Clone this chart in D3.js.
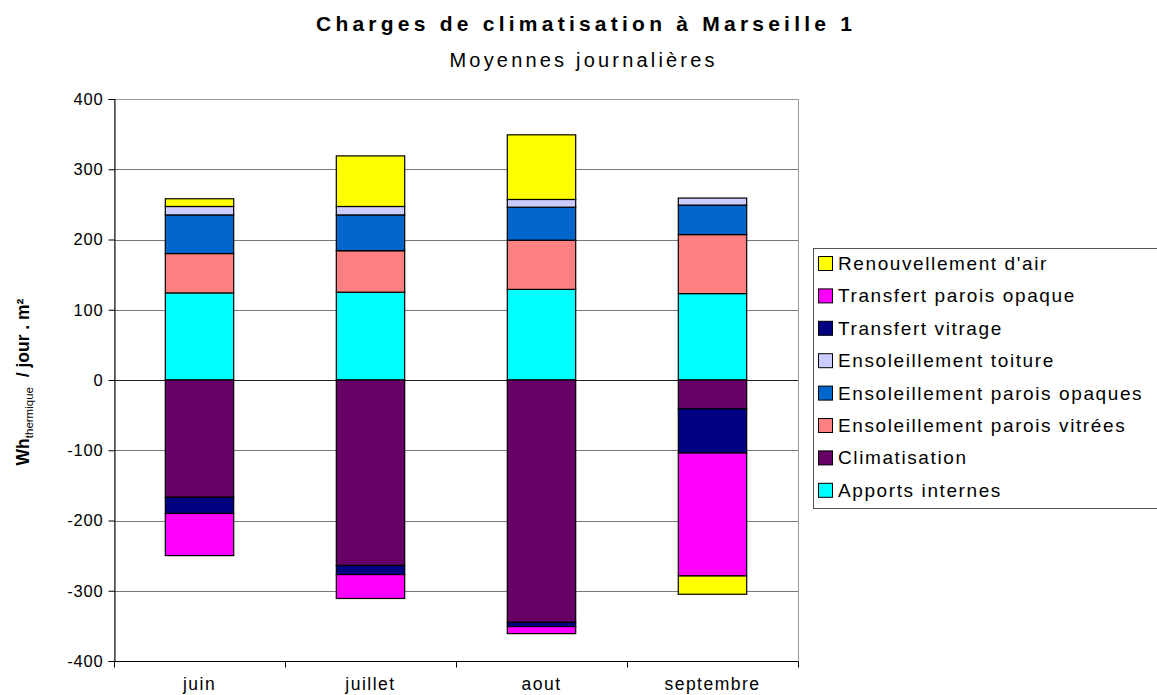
<!DOCTYPE html>
<html>
<head>
<meta charset="utf-8">
<script src="https://cdn.jsdelivr.net/npm/d3@7"></script>
<style>
  body { margin: 0; background: #fff; }
  svg { display: block; font-family: "Liberation Sans", Arial, sans-serif; }
</style>
</head>
<body>
<svg id="chart" width="1157" height="695"></svg>
<script>
// Months on the category axis
const categories = ["juin", "juillet", "aout", "septembre"];

// Daily mean loads per series (Wh thermique / jour . m²), stacking order
const apportsInternes       = [124, 125, 129, 123];
const climatisation         = [-167, -264, -345, -41];
const ensoleilVitrees       = [56, 59, 70, 84];
const ensoleilOpaques       = [55, 51, 47, 42];
const ensoleilToiture       = [12, 12, 11, 10];
const transfertVitrage      = [-23, -13, -6, -63];
const transfertOpaque       = [-60, -34, -10, -175];
const renouvellementAir     = [11, 72, 92, -26];

const seriesNames = [
  "Apports internes", "Climatisation", "Ensoleillement parois vitrées",
  "Ensoleillement parois opaques", "Ensoleillement toiture", "Transfert vitrage",
  "Transfert parois opaque", "Renouvellement d'air"
];
const seriesValues = [
  apportsInternes, climatisation, ensoleilVitrees, ensoleilOpaques,
  ensoleilToiture, transfertVitrage, transfertOpaque, renouvellementAir
];
const seriesColors = [
  "#00FFFF", "#660066", "#FF8080", "#0066CC",
  "#CCCCFF", "#000080", "#FF00FF", "#FFFF00"
];

const yTicks = [-400, -300, -200, -100, 0, 100, 200, 300, 400];

// Build table rows for d3.stack
const rows = categories.map((c, i) => {
  const r = { cat: c };
  seriesNames.forEach((s, k) => { r[s] = seriesValues[k][i]; });
  return r;
});

const svg = d3.select("#chart");
const plot = { left: 114, right: 798, top: 99, bottom: 661 };

const x = d3.scaleBand().domain(categories).range([plot.left, plot.right]).paddingInner(0.6).paddingOuter(0.3);
const xCat = d3.scaleBand().domain(categories).range([plot.left, plot.right]);
const y = d3.scaleLinear().domain([-400, 400]).range([plot.bottom, plot.top]);

// Plot frame
svg.append("rect")
  .attr("x", plot.left + 0.5).attr("y", plot.top + 0.5)
  .attr("width", plot.right - plot.left).attr("height", plot.bottom - plot.top)
  .attr("fill", "none").attr("stroke", "#9a9a9a").attr("stroke-width", 1);

// Horizontal gridlines
svg.append("g").selectAll("line").data(yTicks.filter(t => t !== -400 && t !== 400)).join("line")
  .attr("x1", plot.left).attr("x2", plot.right)
  .attr("y1", d => Math.round(y(d)) + 0.5).attr("y2", d => Math.round(y(d)) + 0.5)
  .attr("stroke", d => d === 0 ? "#222" : "#777").attr("stroke-width", 1);

// Stacked bars, positives above and negatives below zero
const stack = d3.stack().keys(seriesNames).offset(d3.stackOffsetDiverging);
const stacked = stack(rows);

svg.append("g").selectAll("g").data(stacked).join("g")
  .attr("fill", (d, i) => seriesColors[i])
  .selectAll("rect").data(d => d.filter(p => p[1] !== p[0])).join("rect")
  .attr("x", d => x(d.data.cat))
  .attr("width", x.bandwidth())
  .attr("y", d => y(Math.max(d[0], d[1])))
  .attr("height", d => Math.abs(y(d[0]) - y(d[1])))
  .attr("stroke", "#000").attr("stroke-width", 1.2);

// Y axis
const yAxis = svg.append("g").attr("transform", `translate(${plot.left + 0.5},0)`)
  .call(d3.axisLeft(y).tickValues(yTicks).tickSize(6).tickPadding(5).tickFormat(d3.format("d")));
yAxis.select(".domain").attr("stroke", "#000");
yAxis.selectAll(".tick line").attr("stroke", "#000");
yAxis.selectAll("text").attr("font-size", 16.5).attr("fill", "#000").attr("letter-spacing", 0.8)
  .text(d => d < 0 ? "-" + Math.abs(d) : d);

// X axis with ticks at category boundaries
const xAxisG = svg.append("g").attr("transform", `translate(0,${plot.bottom + 0.5})`);
xAxisG.append("line").attr("x1", plot.left).attr("x2", plot.right).attr("stroke", "#000");
const bounds = categories.map(c => xCat(c)).concat([plot.right]);
xAxisG.selectAll("line.tk").data(bounds).join("line").attr("class", "tk")
  .attr("x1", d => Math.round(d) + 0.5).attr("x2", d => Math.round(d) + 0.5)
  .attr("y1", 0).attr("y2", 6).attr("stroke", "#000");
xAxisG.selectAll("text").data(categories).join("text")
  .attr("x", d => xCat(d) + xCat.bandwidth() / 2).attr("y", 28)
  .attr("text-anchor", "middle").attr("font-size", 17.5).attr("fill", "#000")
  .attr("letter-spacing", 1.5)
  .text(d => d);

// Titles
svg.append("text").attr("x", 584).attr("y", 31).attr("text-anchor", "middle")
  .attr("font-size", 21).attr("font-weight", "bold")
  .attr("textLength", 536).attr("lengthAdjust", "spacing")
  .text("Charges de climatisation à Marseille 1");
svg.append("text").attr("x", 582).attr("y", 67).attr("text-anchor", "middle")
  .attr("font-size", 20)
  .attr("textLength", 265).attr("lengthAdjust", "spacing")
  .text("Moyennes journalières");

// Y axis title
const yt = svg.append("text").attr("transform", "translate(29,382) rotate(-90)")
  .attr("text-anchor", "middle").attr("font-size", 17.5).attr("font-weight", "bold");
yt.append("tspan").text("Wh");
yt.append("tspan").attr("font-size", 11.5).attr("font-weight", "normal").attr("dy", 4).text("thermique");
yt.append("tspan").attr("dy", -4).attr("xml:space", "preserve").text("  / jour . m²");

// Legend, listed top-down in reverse stacking order
const legend = svg.append("g");
legend.append("rect").attr("x", 813.5).attr("y", 248.5).attr("width", 360).attr("height", 260)
  .attr("fill", "#fff").attr("stroke", "#555");
const legendOrder = d3.range(seriesNames.length).reverse();
const li = legend.selectAll("g.item").data(legendOrder).join("g").attr("class", "item")
  .attr("transform", (d, i) => `translate(0,${263 + i * 32.4})`);
li.append("rect").attr("x", 818.5).attr("y", -6.5).attr("width", 14).attr("height", 14)
  .attr("fill", d => seriesColors[d]).attr("stroke", "#000");
li.append("text").attr("x", 838).attr("y", 7).attr("font-size", 19).attr("letter-spacing", 1.6)
  .text(d => seriesNames[d]);
</script>
</body>
</html>
